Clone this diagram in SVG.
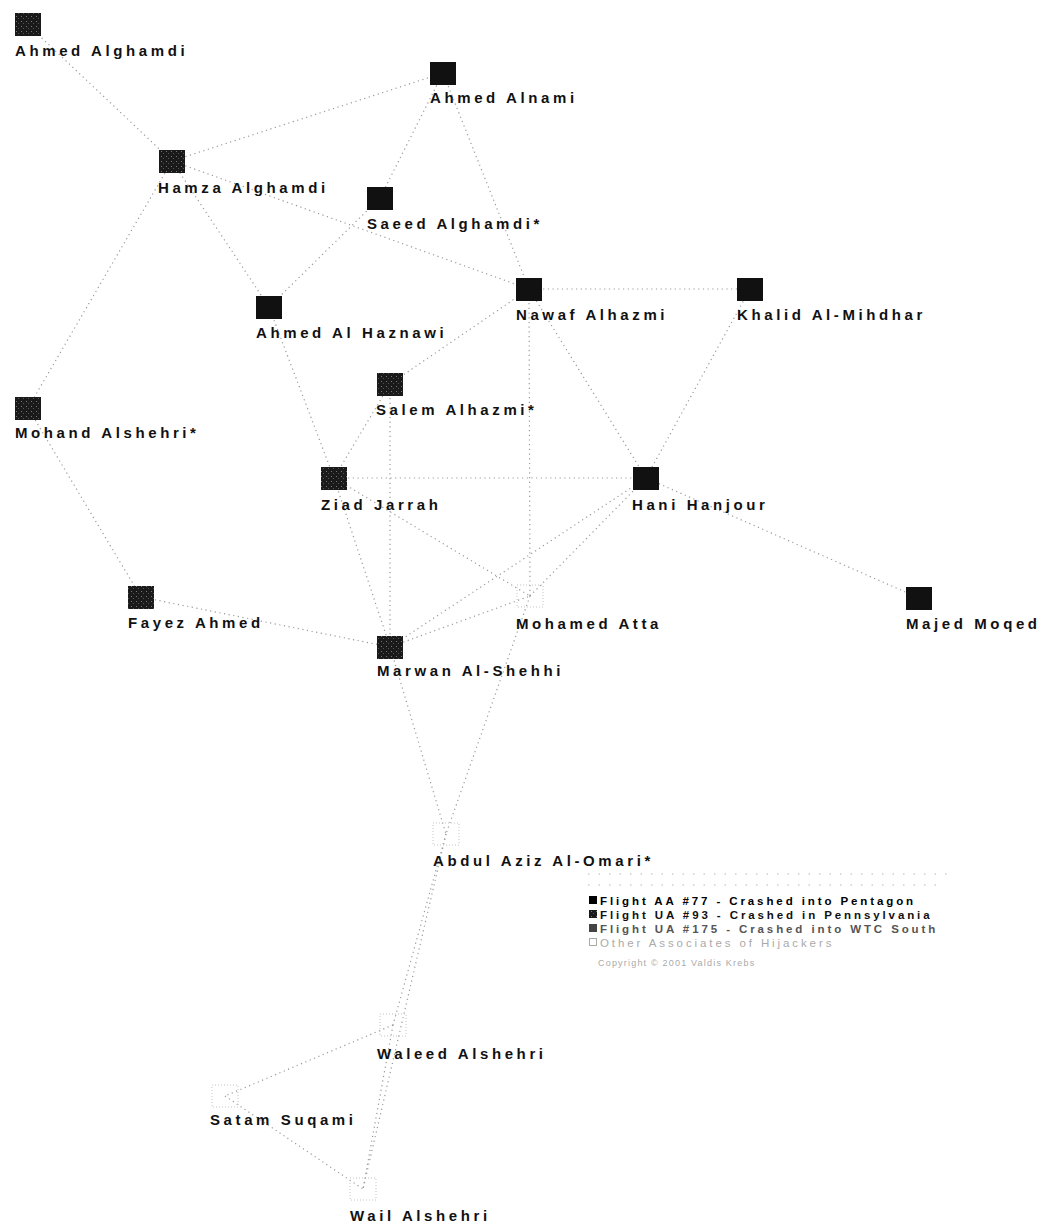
<svg xmlns="http://www.w3.org/2000/svg" width="1049" height="1226" viewBox="0 0 1049 1226">
<style>
.bg{fill:#fff}
.lbl{font-family:"Liberation Sans",Arial,sans-serif;font-weight:bold;font-size:15px;letter-spacing:3.6px;fill:#111}
.sq{fill:#111}
.sqd{fill:url(#dither)}
.sqf{fill:none;stroke:#c4c4c4;stroke-width:1;stroke-dasharray:1 2}
.e{stroke:#9a9a9a;stroke-width:1.2;stroke-dasharray:1.2 3.5;fill:none}
.lg{font-family:"Liberation Sans",Arial,sans-serif;font-weight:bold;font-size:11.5px;letter-spacing:2.9px}
.cp{font-family:"Liberation Sans",Arial,sans-serif;font-size:9px;letter-spacing:1.2px;fill:#aaa}
.fd{stroke:#d0d0d0;stroke-width:1.5;stroke-dasharray:1.5 9;fill:none}
</style>
<defs>
<pattern id="dither" width="5" height="5" patternUnits="userSpaceOnUse">
<rect width="5" height="5" fill="#1a1a1a"/>
<rect x="1" y="1" width="1" height="1" fill="#777"/>
<rect x="3" y="3" width="1" height="1" fill="#555"/>
</pattern>
</defs>
<rect class="bg" width="1049" height="1226"/>
<g id="connectors">
<line class="e" x1="28" y1="25" x2="172" y2="161"/>
<line class="e" x1="172" y1="161" x2="443" y2="73"/>
<line class="e" x1="172" y1="161" x2="529" y2="289"/>
<line class="e" x1="172" y1="161" x2="269" y2="307"/>
<line class="e" x1="172" y1="161" x2="28" y2="408"/>
<line class="e" x1="443" y1="73" x2="380" y2="198"/>
<line class="e" x1="443" y1="73" x2="529" y2="289"/>
<line class="e" x1="380" y1="198" x2="269" y2="307"/>
<line class="e" x1="529" y1="289" x2="750" y2="289"/>
<line class="e" x1="529" y1="289" x2="530" y2="596"/>
<line class="e" x1="529" y1="289" x2="646" y2="478"/>
<line class="e" x1="529" y1="289" x2="390" y2="384"/>
<line class="e" x1="750" y1="289" x2="646" y2="478"/>
<line class="e" x1="334" y1="478" x2="646" y2="478"/>
<line class="e" x1="390" y1="384" x2="390" y2="647"/>
<line class="e" x1="269" y1="307" x2="334" y2="478"/>
<line class="e" x1="390" y1="384" x2="334" y2="478"/>
<line class="e" x1="334" y1="478" x2="390" y2="647"/>
<line class="e" x1="334" y1="478" x2="530" y2="596"/>
<line class="e" x1="390" y1="647" x2="646" y2="478"/>
<line class="e" x1="390" y1="647" x2="530" y2="596"/>
<line class="e" x1="530" y1="596" x2="646" y2="478"/>
<line class="e" x1="141" y1="597" x2="390" y2="647"/>
<line class="e" x1="28" y1="408" x2="141" y2="597"/>
<line class="e" x1="646" y1="478" x2="919" y2="598"/>
<line class="e" x1="390" y1="647" x2="446" y2="834"/>
<line class="e" x1="530" y1="596" x2="446" y2="834"/>
<line class="e" x1="446" y1="834" x2="393" y2="1025"/>
<line class="e" x1="446" y1="834" x2="363" y2="1189"/>
<line class="e" x1="393" y1="1025" x2="225" y2="1096"/>
<line class="e" x1="393" y1="1025" x2="363" y2="1189"/>
<line class="e" x1="225" y1="1096" x2="363" y2="1189"/>
</g>
<g id="n-ahmed-alghamdi"><rect class="sqd" x="15" y="13" width="26" height="23"/><text class="lbl" x="15" y="56">Ahmed Alghamdi</text></g>
<g id="n-ahmed-alnami"><rect class="sq" x="430" y="62" width="26" height="23"/><text class="lbl" x="430" y="103">Ahmed Alnami</text></g>
<g id="n-hamza-alghamdi"><rect class="sqd" x="159" y="150" width="26" height="23"/><text class="lbl" x="158" y="193">Hamza Alghamdi</text></g>
<g id="n-saeed-alghamdi"><rect class="sq" x="367" y="187" width="26" height="23"/><text class="lbl" x="367" y="229">Saeed Alghamdi*</text></g>
<g id="n-ahmed-al-haznawi"><rect class="sq" x="256" y="296" width="26" height="23"/><text class="lbl" x="256" y="338">Ahmed Al Haznawi</text></g>
<g id="n-nawaf-alhazmi"><rect class="sq" x="516" y="278" width="26" height="23"/><text class="lbl" x="516" y="320">Nawaf Alhazmi</text></g>
<g id="n-khalid-al-mihdhar"><rect class="sq" x="737" y="278" width="26" height="23"/><text class="lbl" x="737" y="320">Khalid Al-Mihdhar</text></g>
<g id="n-salem-alhazmi"><rect class="sqd" x="377" y="373" width="26" height="23"/><text class="lbl" x="376" y="415">Salem Alhazmi*</text></g>
<g id="n-mohand-alshehri"><rect class="sqd" x="15" y="397" width="26" height="23"/><text class="lbl" x="15" y="438">Mohand Alshehri*</text></g>
<g id="n-ziad-jarrah"><rect class="sqd" x="321" y="467" width="26" height="23"/><text class="lbl" x="321" y="510">Ziad Jarrah</text></g>
<g id="n-hani-hanjour"><rect class="sq" x="633" y="467" width="26" height="23"/><text class="lbl" x="632" y="510">Hani Hanjour</text></g>
<g id="n-fayez-ahmed"><rect class="sqd" x="128" y="586" width="26" height="23"/><text class="lbl" x="128" y="628">Fayez Ahmed</text></g>
<g id="n-majed-moqed"><rect class="sq" x="906" y="587" width="26" height="23"/><text class="lbl" x="906" y="629">Majed Moqed</text></g>
<g id="n-marwan-al-shehhi"><rect class="sqd" x="377" y="636" width="26" height="23"/><text class="lbl" x="377" y="676">Marwan Al-Shehhi</text></g>
<g id="n-mohamed-atta"><rect class="sqf" x="517" y="585" width="26" height="22"/><text class="lbl" x="516" y="629">Mohamed Atta</text></g>
<g id="n-abdul-aziz-al-omari"><rect class="sqf" x="433" y="823" width="26" height="22"/><text class="lbl" x="433" y="866">Abdul Aziz Al-Omari*</text></g>
<g id="n-waleed-alshehri"><rect class="sqf" x="380" y="1014" width="26" height="22"/><text class="lbl" x="377" y="1059">Waleed Alshehri</text></g>
<g id="n-satam-suqami"><rect class="sqf" x="212" y="1085" width="26" height="22"/><text class="lbl" x="210" y="1125">Satam Suqami</text></g>
<g id="n-wail-alshehri"><rect class="sqf" x="350" y="1178" width="26" height="22"/><text class="lbl" x="350" y="1221">Wail Alshehri</text></g>
<g id="legend">
<line class="fd" x1="588" y1="874" x2="950" y2="874"/>
<line class="fd" x1="588" y1="885" x2="945" y2="885"/>
<rect x="589" y="896" width="8" height="8" fill="#000"/>
<text class="lg" x="600" y="905" fill="#000">Flight AA #77 - Crashed into Pentagon</text>
<rect x="589" y="910" width="8" height="8" fill="url(#dither)"/>
<text class="lg" x="600" y="919" fill="#111">Flight UA #93 - Crashed in Pennsylvania</text>
<rect x="589" y="924" width="8" height="8" fill="#444"/>
<text class="lg" x="600" y="933" fill="#555">Flight UA #175 - Crashed into WTC South</text>
<rect x="589.5" y="938.5" width="7" height="7" fill="none" stroke="#aaa"/>
<text class="lg" x="600" y="947" fill="#aaa" style="font-weight:normal">Other Associates of Hijackers</text>
<text class="cp" x="598" y="966">Copyright © 2001 Valdis Krebs</text>
</g>
</svg>
